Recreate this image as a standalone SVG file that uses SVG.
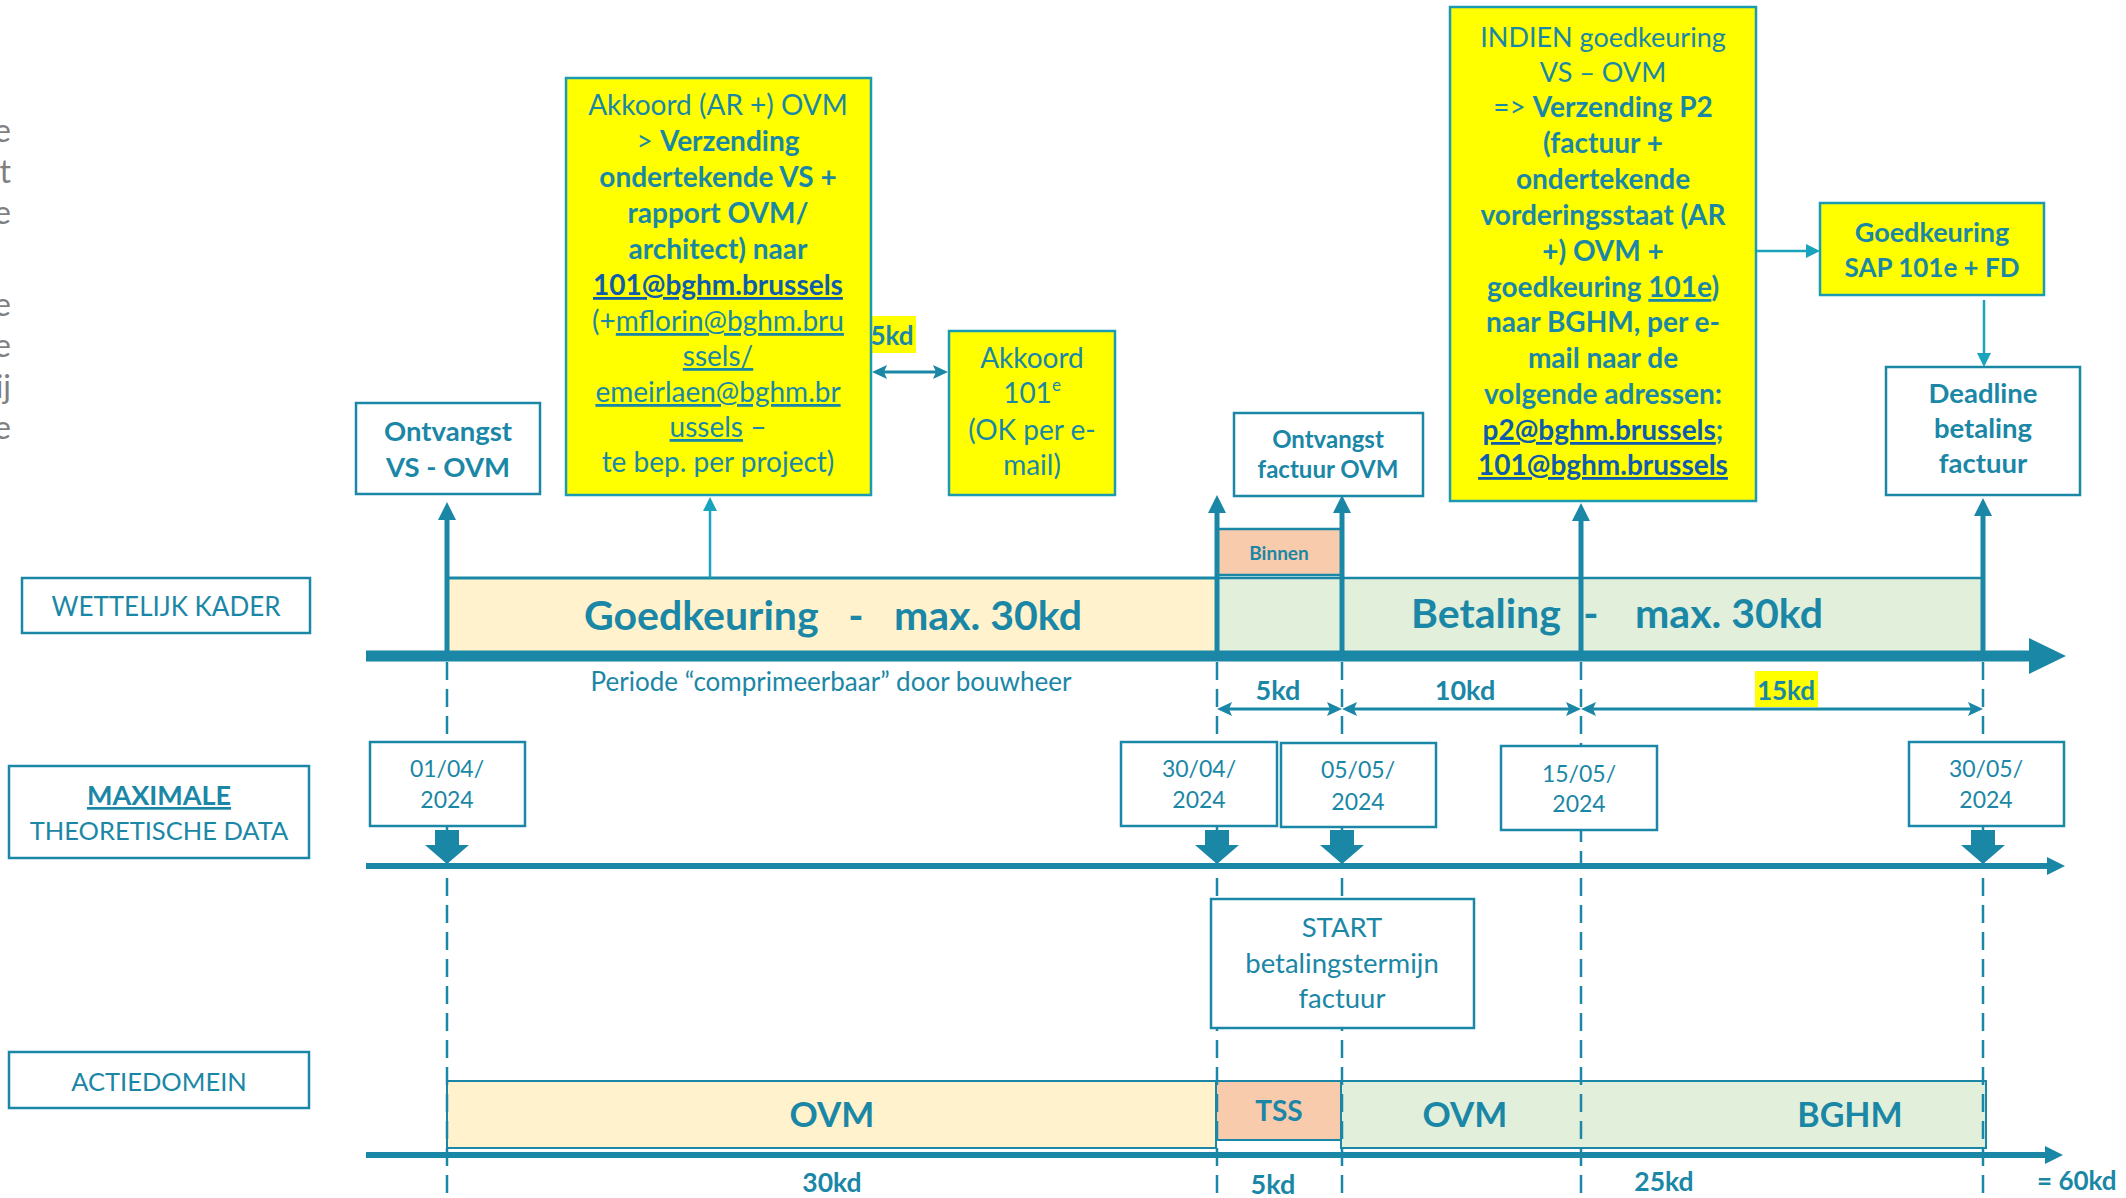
<svg xmlns="http://www.w3.org/2000/svg" width="2126" height="1198" viewBox="0 0 2126 1198">
<style>
text{font-family:Lato,"Liberation Sans",sans-serif;fill:#1B87A6;}
.c{text-anchor:middle;}
.b{font-weight:bold;}
.u{text-decoration:underline;}
.lk{fill:#0F5CAC;font-weight:bold;text-decoration:underline;}
.gray{fill:#7F7F7F;font-size:32px;text-anchor:end;}
.box{fill:#FFFFFF;stroke:#1B87A6;stroke-width:2.5;}
.ybox{fill:#FFFF00;stroke:#1B9AB4;stroke-width:2.5;}
.thick{stroke:#1B87A6;stroke-width:5;fill:none;}
.thin{stroke:#19A3BC;stroke-width:2.5;fill:none;}
.dim{stroke:#1B87A6;stroke-width:3;fill:none;}
.dash{stroke:#1B87A6;stroke-width:2.5;stroke-dasharray:18 9;fill:none;}
.axis{stroke:#1B87A6;fill:none;}
.head{fill:#1B87A6;}
.tb{font-size:28px;}
</style>
<defs>
<marker id="mThick" markerUnits="userSpaceOnUse" markerWidth="18" markerHeight="18" viewBox="0 0 18 18" refX="8" refY="9" orient="auto"><path d="M0,0 L18,9 L0,18 Z" fill="#1B87A6"/></marker>
<marker id="mThin" markerUnits="userSpaceOnUse" markerWidth="14" markerHeight="14" viewBox="0 0 14 14" refX="6" refY="7" orient="auto"><path d="M0,0 L14,7 L0,14 Z" fill="#19A3BC"/></marker>
<marker id="mDim" markerUnits="userSpaceOnUse" markerWidth="15" markerHeight="14" viewBox="0 0 15 14" refX="9" refY="7" orient="auto-start-reverse"><path d="M0,0 L15,7 L0,14 L3,7 Z" fill="#1B87A6"/></marker>
<path id="blk" d="M-12,0 H12 V15 H22 L0,34 L-22,15 H-12 Z" fill="#1B87A6"/>
</defs>

<!-- cut-off side text -->
<g id="side-text">
<text class="gray" x="11" y="142">e</text>
<text class="gray" x="11" y="183">t</text>
<text class="gray" x="11" y="224">e</text>
<text class="gray" x="11" y="316">e</text>
<text class="gray" x="11" y="357">e</text>
<text class="gray" x="11" y="398">ij</text>
<text class="gray" x="11" y="439">e</text>
</g>

<!-- row labels -->
<g id="label-wettelijk">
<rect class="box" x="22" y="578" width="288" height="55"/>
<text class="c" x="166" y="616" font-size="26">WETTELIJK KADER</text>
</g>
<g id="label-maximale">
<rect class="box" x="9" y="766" width="300" height="92"/>
<text class="c b u" x="159" y="805" font-size="27">MAXIMALE</text>
<text class="c" x="159" y="840" font-size="25.5">THEORETISCHE DATA</text>
</g>
<g id="label-actiedomein">
<rect class="box" x="9" y="1052" width="300" height="56"/>
<text class="c" x="159" y="1091" font-size="25.5">ACTIEDOMEIN</text>
</g>

<!-- period bars (wettelijk kader) -->
<g id="bar-goedkeuring">
<rect x="447" y="578" width="770" height="74" fill="#FFF2CC"/>
<line x1="447" y1="578" x2="1217" y2="578" stroke="#1B87A6" stroke-width="3"/>
<text class="b" x="584" y="630" font-size="41">Goedkeuring</text>
<text class="b c" x="856" y="630" font-size="41">-</text>
<text class="b" x="894" y="630" font-size="41">max. 30kd</text>
</g>
<g id="bar-betaling">
<rect x="1217" y="578" width="766" height="74" fill="#E2EFDA"/>
<line x1="1217" y1="578" x2="1983" y2="578" stroke="#1B87A6" stroke-width="2.5"/>
<text class="b" x="1411" y="628" font-size="41">Betaling</text>
<text class="b c" x="1591" y="628" font-size="41">-</text>
<text class="b" x="1635" y="628" font-size="41">max. 30kd</text>
</g>
<g id="bar-binnen">
<rect x="1217" y="529" width="125" height="46" fill="#F8CBAD" stroke="#1B87A6" stroke-width="2.5"/>
<text class="b c" x="1279" y="560" font-size="19">Binnen</text>
</g>

<!-- action bars -->
<g id="act-ovm1">
<rect x="447" y="1081" width="769" height="67" fill="#FFF2CC" stroke="#1B87A6" stroke-width="2"/>
<text class="b c" x="832" y="1127" font-size="35">OVM</text>
</g>
<g id="act-tss">
<rect x="1216" y="1081" width="125" height="59" fill="#F8CBAD" stroke="#1B87A6" stroke-width="2"/>
<text class="b c" x="1279" y="1121" font-size="28">TSS</text>
</g>
<g id="act-ovm2-bghm">
<rect x="1341" y="1081" width="645" height="67" fill="#E2EFDA" stroke="#1B87A6" stroke-width="2"/>
<text class="b c" x="1465" y="1127" font-size="35">OVM</text>
<text class="b c" x="1850" y="1127" font-size="34">BGHM</text>
</g>

<!-- connectors -->
<g id="connectors">
<line class="dash" x1="447" y1="662" x2="447" y2="1198"/>
<line class="dash" x1="1217" y1="662" x2="1217" y2="1198"/>
<line class="dash" x1="1342" y1="662" x2="1342" y2="1198"/>
<line class="dash" x1="1581" y1="662" x2="1581" y2="1198"/>
<line class="dash" x1="1983" y1="662" x2="1983" y2="1198"/>
<line class="axis" x1="366" y1="656" x2="2032" y2="656" stroke-width="11"/>
<polygon class="head" points="2029,638 2066,656 2029,674"/>
<line class="axis" x1="366" y1="866" x2="2050" y2="866" stroke-width="6"/>
<polygon class="head" points="2047,857 2065,866 2047,875"/>
<line class="axis" x1="366" y1="1155" x2="2048" y2="1155" stroke-width="6"/>
<polygon class="head" points="2045,1146 2063,1155 2045,1164"/>
<line class="thick" x1="447" y1="652" x2="447" y2="512" marker-end="url(#mThick)"/>
<line class="thick" x1="1217" y1="652" x2="1217" y2="505" marker-end="url(#mThick)"/>
<line class="thick" x1="1342" y1="652" x2="1342" y2="505" marker-end="url(#mThick)"/>
<line class="thick" x1="1581" y1="652" x2="1581" y2="513" marker-end="url(#mThick)"/>
<line class="thick" x1="1983" y1="652" x2="1983" y2="508" marker-end="url(#mThick)"/>
<line class="thin" x1="710" y1="578" x2="710" y2="505" marker-end="url(#mThin)"/>
<line class="thin" x1="1756" y1="251" x2="1812" y2="251" marker-end="url(#mThin)"/>
<line class="thin" x1="1984" y1="300" x2="1984" y2="359" marker-end="url(#mThin)"/>
<line class="dim" x1="878" y1="372" x2="942" y2="372" marker-start="url(#mDim)" marker-end="url(#mDim)"/>
<line class="dim" x1="1223" y1="709" x2="1336" y2="709" marker-start="url(#mDim)" marker-end="url(#mDim)"/>
<line class="dim" x1="1348" y1="709" x2="1575" y2="709" marker-start="url(#mDim)" marker-end="url(#mDim)"/>
<line class="dim" x1="1587" y1="709" x2="1977" y2="709" marker-start="url(#mDim)" marker-end="url(#mDim)"/>
<use href="#blk" x="447" y="830"/>
<use href="#blk" x="1217" y="830"/>
<use href="#blk" x="1342" y="830"/>
<use href="#blk" x="1983" y="830"/>
</g>

<!-- axis annotations -->
<g id="periode-label">
<text class="c" x="831" y="691" font-size="26">Periode “comprimeerbaar” door bouwheer</text>
</g>
<g id="dim-labels">
<text class="b c" x="1278" y="700" font-size="27">5kd</text>
<text class="b c" x="1465" y="700" font-size="27">10kd</text>
<rect x="1755" y="671" width="63" height="36" fill="#FFFF00"/>
<text class="b c" x="1786" y="700" font-size="26">15kd</text>
</g>
<g id="akkoord-5kd">
<rect x="869" y="316" width="47" height="37" fill="#FFFF00"/>
<text class="b c" x="892" y="345" font-size="26">5kd</text>
</g>

<!-- top event boxes -->
<g id="ontvangst-vs">
<rect class="box" x="356" y="403" width="184" height="91"/>
<text class="b c" x="448" y="441" font-size="27.5">Ontvangst</text>
<text class="b c" x="448" y="477" font-size="27.5">VS - OVM</text>
</g>
<g id="akkoord-ovm">
<rect class="ybox" x="566" y="78" width="305" height="417"/>
<text class="c tb" x="718" y="115">Akkoord (AR +) OVM</text>
<text class="c tb" x="718" y="151">&gt; <tspan class="b">Verzending</tspan></text>
<text class="c b tb" x="718" y="187">ondertekende VS +</text>
<text class="c b tb" x="718" y="223">rapport OVM/</text>
<text class="c b tb" x="718" y="259">architect) naar</text>
<text class="c lk tb" x="718" y="295">101@bghm.brussels</text>
<text class="c tb" x="718" y="331">(+<tspan class="u">mflorin@bghm.bru</tspan></text>
<text class="c u tb" x="718" y="366">ssels/</text>
<text class="c u tb" x="718" y="402">emeirlaen@bghm.br</text>
<text class="c tb" x="718" y="437"><tspan class="u">ussels</tspan> –</text>
<text class="c tb" x="718" y="472">te bep. per project)</text>
</g>
<g id="akkoord-101e">
<rect class="ybox" x="949" y="331" width="166" height="164"/>
<text class="c tb" x="1032" y="368">Akkoord</text>
<text class="c tb" x="1032" y="403">101<tspan font-size="17" dy="-12">e</tspan></text>
<text class="c tb" x="1032" y="440">(OK per e-</text>
<text class="c tb" x="1032" y="475">mail)</text>
</g>
<g id="ontvangst-factuur">
<rect class="box" x="1234" y="413" width="189" height="83"/>
<text class="b c" x="1328" y="448" font-size="24">Ontvangst</text>
<text class="b c" x="1328" y="478" font-size="24">factuur OVM</text>
</g>
<g id="indien-box">
<rect class="ybox" x="1450" y="7" width="306" height="494"/>
<text class="c" x="1603" y="47" font-size="27">INDIEN goedkeuring</text>
<text class="c" x="1603" y="82" font-size="27">VS – OVM</text>
<text class="c tb" x="1603" y="117">=&gt; <tspan class="b">Verzending P2</tspan></text>
<text class="c b tb" x="1603" y="153">(factuur +</text>
<text class="c b tb" x="1603" y="189">ondertekende</text>
<text class="c b tb" x="1603" y="225">vorderingsstaat (AR</text>
<text class="c b tb" x="1603" y="261">+) OVM +</text>
<text class="c b tb" x="1603" y="297">goedkeuring <tspan class="u">101e</tspan>)</text>
<text class="c b tb" x="1603" y="332">naar BGHM, per e-</text>
<text class="c b tb" x="1603" y="368">mail naar de</text>
<text class="c b tb" x="1603" y="404">volgende adressen:</text>
<text class="c b tb" x="1603" y="440"><tspan class="lk">p2@bghm.brussels</tspan>;</text>
<text class="c lk tb" x="1603" y="475">101@bghm.brussels</text>
</g>
<g id="goedkeuring-sap">
<rect class="ybox" x="1820" y="203" width="224" height="92"/>
<text class="b c" x="1932" y="242" font-size="27">Goedkeuring</text>
<text class="b c" x="1932" y="277" font-size="26">SAP 101e + FD</text>
</g>
<g id="deadline">
<rect class="box" x="1886" y="367" width="194" height="128"/>
<text class="b c" x="1983" y="403" font-size="27.5">Deadline</text>
<text class="b c" x="1983" y="438" font-size="27.5">betaling</text>
<text class="b c" x="1983" y="473" font-size="27.5">factuur</text>
</g>

<!-- date boxes -->
<g id="date-0104">
<rect class="box" x="370" y="742" width="155" height="84"/>
<text class="c" x="447" y="777" font-size="23">01/04/</text>
<text class="c" x="447" y="808" font-size="23">2024</text>
</g>
<g id="date-3004">
<rect class="box" x="1121" y="742" width="156" height="84"/>
<text class="c" x="1199" y="777" font-size="23">30/04/</text>
<text class="c" x="1199" y="808" font-size="23">2024</text>
</g>
<g id="date-0505">
<rect class="box" x="1281" y="743" width="155" height="84"/>
<text class="c" x="1358" y="778" font-size="23">05/05/</text>
<text class="c" x="1358" y="810" font-size="23">2024</text>
</g>
<g id="date-1505">
<rect class="box" x="1501" y="746" width="156" height="84"/>
<text class="c" x="1579" y="782" font-size="23">15/05/</text>
<text class="c" x="1579" y="812" font-size="23">2024</text>
</g>
<g id="date-3005">
<rect class="box" x="1909" y="742" width="155" height="84"/>
<text class="c" x="1986" y="777" font-size="23">30/05/</text>
<text class="c" x="1986" y="808" font-size="23">2024</text>
</g>

<g id="start-box">
<rect class="box" x="1211" y="899" width="263" height="129"/>
<text class="c" x="1342" y="937" font-size="27.5">START</text>
<text class="c" x="1342" y="973" font-size="27.5">betalingstermijn</text>
<text class="c" x="1342" y="1008" font-size="27.5">factuur</text>
</g>

<g id="duration-labels">
<text class="b c" x="832" y="1192" font-size="26.5">30kd</text>
<text class="b c" x="1273" y="1194" font-size="27">5kd</text>
<text class="b c" x="1664" y="1191" font-size="26.5">25kd</text>
<text class="b" x="2037" y="1190" font-size="26">= 60kd</text>
</g>
</svg>
